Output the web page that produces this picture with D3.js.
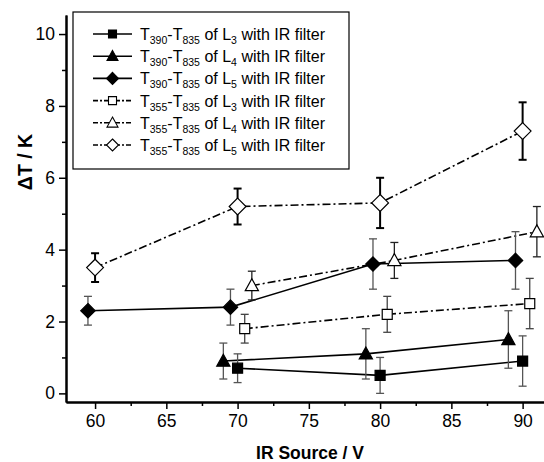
<!DOCTYPE html>
<html>
<head>
<meta charset="utf-8">
<script src="https://cdn.jsdelivr.net/npm/d3@7"></script>
<style>
  html, body { margin: 0; padding: 0; background: #fff; }
  svg { display: block; font-family: "Liberation Sans", Arial, sans-serif; }
</style>
</head>
<body>
<svg id="chart" width="544" height="462"></svg>
<script>
// Temperature differences versus IR source voltage
const xTicks = [60, 65, 70, 75, 80, 85, 90];
const yTicks = [0, 2, 4, 6, 8, 10];

const sqFilledX = [70, 80, 90];
const sqFilledY = [0.7, 0.5, 0.9];
const sqFilledErr = [0.4, 0.5, 0.7];

const triFilledX = [69, 79, 89];
const triFilledY = [0.9, 1.1, 1.5];
const triFilledErr = [0.5, 0.7, 0.8];

const diaFilledX = [59.5, 69.5, 79.5, 89.5];
const diaFilledY = [2.3, 2.4, 3.6, 3.7];
const diaFilledErr = [0.4, 0.5, 0.7, 0.8];

const sqOpenX = [70.5, 80.5, 90.5];
const sqOpenY = [1.8, 2.2, 2.5];
const sqOpenErr = [0.4, 0.5, 0.7];

const triOpenX = [71, 81, 91];
const triOpenY = [3.0, 3.7, 4.5];
const triOpenErr = [0.4, 0.5, 0.7];

const diaOpenX = [60, 70, 80, 90];
const diaOpenY = [3.5, 5.2, 5.3, 7.3];
const diaOpenErr = [0.4, 0.5, 0.7, 0.8];

const legendSub1 = ["390", "390", "390", "355", "355", "355"];
const legendSubL = ["3", "4", "5", "3", "4", "5"];

const series = [
  { xs: sqFilledX, ys: sqFilledY, es: sqFilledErr, shape: "square", filled: true, dash: null, errColor: "#555", errW: 1.3 },
  { xs: triFilledX, ys: triFilledY, es: triFilledErr, shape: "triangle", filled: true, dash: null, errColor: "#555", errW: 1.3 },
  { xs: diaFilledX, ys: diaFilledY, es: diaFilledErr, shape: "diamond", filled: true, dash: null, errColor: "#555", errW: 1.3 },
  { xs: sqOpenX, ys: sqOpenY, es: sqOpenErr, shape: "square", filled: false, dash: "8,3,2,3", errColor: "#444", errW: 1.3 },
  { xs: triOpenX, ys: triOpenY, es: triOpenErr, shape: "triangle", filled: false, dash: "8,3,2,3", errColor: "#222", errW: 1.3 },
  { xs: diaOpenX, ys: diaOpenY, es: diaOpenErr, shape: "diamond", filled: false, dash: "8,3,2,3", errColor: "#000", errW: 2 }
];

const svg = d3.select("#chart");
const plotLeft = 66, plotRight = 544, plotTop = 15, plotBottom = 402;

const x = d3.scaleLinear().domain([57.96, 91.5]).range([plotLeft, plotRight]);
const y = d3.scaleLinear().domain([-0.24, 10.53]).range([plotBottom, plotTop]);

// Axes
const xAxis = svg.append("g").attr("transform", `translate(0,${plotBottom})`)
  .call(d3.axisBottom(x).tickValues(xTicks).tickSize(7).tickSizeOuter(0).tickPadding(6));
const xMinor = svg.append("g").attr("transform", `translate(0,${plotBottom})`)
  .call(d3.axisBottom(x).tickValues(d3.range(62.5, 91, 5)).tickSize(4).tickSizeOuter(0).tickFormat(""));
const yAxis = svg.append("g").attr("transform", `translate(${plotLeft},0)`)
  .call(d3.axisLeft(y).tickValues(yTicks).tickSize(7).tickSizeOuter(0).tickPadding(4));
const yMinor = svg.append("g").attr("transform", `translate(${plotLeft},0)`)
  .call(d3.axisLeft(y).tickValues([1, 3, 5, 7, 9]).tickSize(4).tickSizeOuter(0).tickFormat(""));

[xAxis, xMinor, yAxis, yMinor].forEach(g => {
  g.select(".domain").attr("stroke", "#000").attr("stroke-width", 2);
  g.selectAll(".tick line").attr("stroke", "#000").attr("stroke-width", 1.5);
  g.selectAll("text").attr("font-size", 17.5).attr("fill", "#000")
    .attr("font-family", "Liberation Sans, Arial, sans-serif");
});

// Axis titles
svg.append("text").attr("x", 310).attr("y", 459).attr("text-anchor", "middle")
  .attr("font-size", 17.5).attr("font-weight", "bold").text("IR Source / V");
svg.append("text").attr("transform", "translate(32,162) rotate(-90)").attr("text-anchor", "middle")
  .attr("font-size", 19.5).attr("font-weight", "bold").text("\u0394T / K");

// Marker path generator
function markerPath(shape, s) {
  if (shape === "square") return `M${-s/2},${-s/2}h${s}v${s}h${-s}Z`;
  if (shape === "triangle") { const h = s * 0.95; return `M0,${-h*0.6}L${s*0.55},${h*0.45}L${-s*0.55},${h*0.45}Z`; }
  return `M0,${-s*0.6}L${s*0.6},0L0,${s*0.6}L${-s*0.6},0Z`;
}
const sizeOf = { square: 10, triangle: 12, diamond: 12 };

const plot = svg.append("g");
const line = d3.line().x(d => x(d[0])).y(d => y(d[1]));

// Connecting lines
series.forEach(s => {
  const pts = s.xs.map((v, i) => [v, s.ys[i]]);
  plot.append("path").attr("d", line(pts)).attr("fill", "none")
    .attr("stroke", "#000").attr("stroke-width", 1.6)
    .attr("stroke-dasharray", s.dash);
});

// Error bars
series.forEach(s => {
  s.xs.forEach((v, i) => {
    const cx = x(v), y1 = y(s.ys[i] + s.es[i]), y2 = y(s.ys[i] - s.es[i]);
    const g = plot.append("g").attr("stroke", s.errColor).attr("stroke-width", s.errW);
    g.append("line").attr("x1", cx).attr("x2", cx).attr("y1", y1).attr("y2", y2);
    g.append("line").attr("x1", cx - 4).attr("x2", cx + 4).attr("y1", y1).attr("y2", y1);
    g.append("line").attr("x1", cx - 4).attr("x2", cx + 4).attr("y1", y2).attr("y2", y2);
  });
});

// Markers
series.forEach(s => {
  const sz = s.shape === "diamond" && !s.filled ? 14 : sizeOf[s.shape];
  s.xs.forEach((v, i) => {
    plot.append("path").attr("transform", `translate(${x(v)},${y(s.ys[i])})`)
      .attr("d", markerPath(s.shape, sz))
      .attr("fill", s.filled ? "#000" : "#fff")
      .attr("stroke", "#000").attr("stroke-width", 1.2);
  });
});

// Legend
const lg = svg.append("g");
lg.append("rect").attr("x", 73).attr("y", 12).attr("width", 276).attr("height", 157)
  .attr("fill", "#fff").attr("stroke", "#000").attr("stroke-width", 1.2);
series.forEach((s, i) => {
  const cy = 34 + i * 22.2;
  lg.append("line").attr("x1", 93).attr("x2", 132).attr("y1", cy).attr("y2", cy)
    .attr("stroke", "#000").attr("stroke-width", 1.6).attr("stroke-dasharray", s.dash ? "5,2,2,2" : null);
  lg.append("path").attr("transform", `translate(112.5,${cy})`)
    .attr("d", markerPath(s.shape, s.shape === "square" ? 8 : 10))
    .attr("fill", s.filled ? "#000" : "#fff").attr("stroke", "#000").attr("stroke-width", 1.1);
  const t = lg.append("text").attr("x", 140).attr("y", cy + 6).attr("font-size", 16).attr("fill", "#000");
  t.append("tspan").text("T");
  t.append("tspan").attr("font-size", 10.5).attr("dy", 4).text(legendSub1[i]);
  t.append("tspan").attr("dy", -4).text("-T");
  t.append("tspan").attr("font-size", 10.5).attr("dy", 4).text("835");
  t.append("tspan").attr("dy", -4).text(" of L");
  t.append("tspan").attr("font-size", 10.5).attr("dy", 4).text(legendSubL[i]);
  t.append("tspan").attr("dy", -4).text(" with IR filter");
});
</script>
</body>
</html>
